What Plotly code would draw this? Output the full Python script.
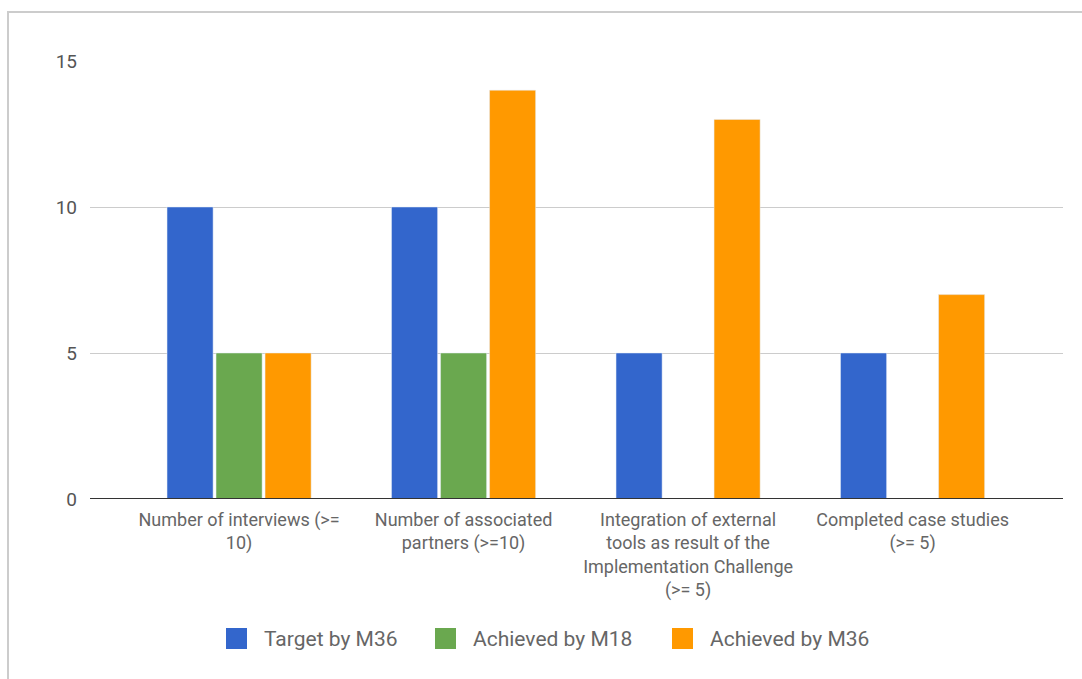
import plotly.graph_objects as go

categories = [
    "Number of interviews (>=<br>10)",
    "Number of associated<br>partners (>=10)",
    "Integration of external<br>tools as result of the<br>Implementation Challenge<br>(>= 5)",
    "Completed case studies<br>(>= 5)",
]
series_names = ["Target by M36", "Achieved by M18", "Achieved by M36"]
series_colors = ["#3366cc", "#6aa84f", "#ff9900"]
target_m36 = [10, 10, 5, 5]
achieved_m18 = [5, 5, None, None]
achieved_m36 = [5, 14, 13, 7]
y_ticks = [0, 5, 10, 15]

fig = go.Figure()
for name, vals, col in zip(series_names, [target_m36, achieved_m18, achieved_m36], series_colors):
    fig.add_bar(name=name, x=list(range(4)), y=vals, marker_color=col, showlegend=False)

W, H = 1082, 679
l, r, t, b = 90, 19, 61, 180
pw = W - l - r
ph = H - t - b

def px(x):
    return (x - l) / pw

def py(y):
    return (H - b - y) / ph

# manual legend (large squares like the reference)
legend_sq_x = [226, 435, 672]
legend_y = 638.5
sq = 21
shapes = [
    dict(type="line", xref="paper", yref="y", x0=0, x1=1, y0=0, y1=0,
         line=dict(color="#333333", width=2)),
    dict(type="rect", xref="paper", yref="paper",
         x0=px(8), x1=px(1100), y0=py(700), y1=py(12),
         line=dict(color="#cccccc", width=2), layer="below"),
]
annotations = []
for sx, name, col in zip(legend_sq_x, series_names, series_colors):
    shapes.append(dict(type="rect", xref="paper", yref="paper",
                       x0=px(sx), x1=px(sx + sq), y0=py(legend_y + sq / 2), y1=py(legend_y - sq / 2),
                       fillcolor=col, line=dict(width=0)))
    annotations.append(dict(xref="paper", yref="paper", x=px(sx + sq + 15), y=py(legend_y),
                            xanchor="left", yanchor="middle", showarrow=False, text=name,
                            font=dict(size=21, color="#666666", family="Roboto")))

fig.update_layout(
    width=W, height=H,
    margin=dict(l=l, r=r, t=t, b=b),
    paper_bgcolor="white", plot_bgcolor="white",
    barmode="group", bargap=0.345, bargroupgap=0.06,
    font=dict(family="Roboto", color="#555555"),
    showlegend=False,
    xaxis=dict(
        tickmode="array", tickvals=list(range(4)), ticktext=categories,
        range=[-0.664, 3.67], showgrid=False, ticks="", tickangle=0,
        tickfont=dict(size=18, color="#666666"), zeroline=False,
        ticklabelstandoff=8,
    ),
    yaxis=dict(
        range=[0, 15], tickvals=y_ticks, showgrid=True, gridcolor="#cccccc",
        gridwidth=1, zeroline=False, ticks="", ticklabelstandoff=12,
        tickfont=dict(size=19, color="#555555"),
    ),
    shapes=shapes,
    annotations=annotations,
)

fig.write_html("out.html")
